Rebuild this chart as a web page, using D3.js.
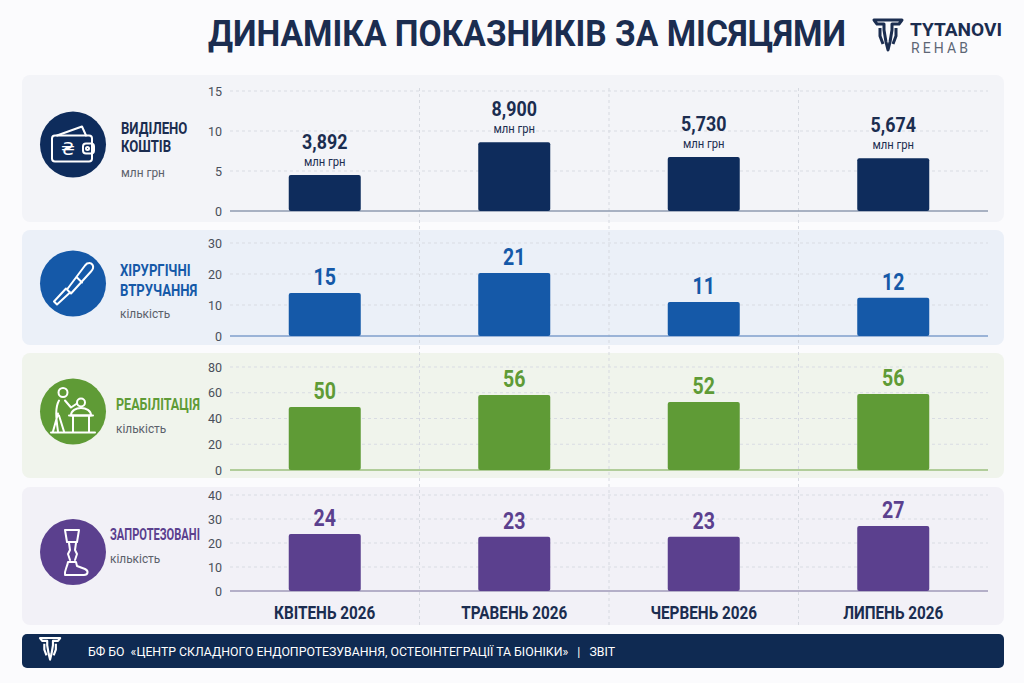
<!DOCTYPE html>
<html>
<head>
<meta charset="utf-8">
<script src="https://cdn.jsdelivr.net/npm/d3@7"></script>
<style>
  html, body { margin: 0; padding: 0; background: #fbfbfd; }
  svg { display: block; }
  .cond { font-family: "Roboto", "Noto Sans", sans-serif; }
</style>
</head>
<body>
<svg id="chart" width="1024" height="683"></svg>
<script>
// months on the x axis
const months = ['КВІТЕНЬ 2026', 'ТРАВЕНЬ 2026', 'ЧЕРВЕНЬ 2026', 'ЛИПЕНЬ 2026'];

// bar heights as drawn in the picture
const fundsValues = [4.5, 8.6, 6.75, 6.6];
const surgeryValues = [13.9, 20.3, 11.0, 12.3];
const rehabValues = [48.9, 58.3, 52.8, 59.0];
const prostheticValues = [23.8, 22.6, 22.6, 27.1];

// labels printed above the bars
const fundsLabels = ['3,892', '8,900', '5,730', '5,674'];
const surgeryLabels = ['15', '21', '11', '12'];
const rehabLabels = ['50', '56', '52', '56'];
const prostheticLabels = ['24', '23', '23', '27'];

// y axis ticks
const fundsTicks = [0, 5, 10, 15];
const surgeryTicks = [0, 10, 20, 30];
const rehabTicks = [0, 20, 40, 60, 80];
const prostheticTicks = [0, 10, 20, 30, 40];

const panels = [
  { title: ['ВИДІЛЕНО', 'КОШТІВ'], unit: 'млн грн', values: fundsValues, labels: fundsLabels,
    ticks: fundsTicks, top: 75, h: 147, y0: 211, y1: 91, color: '#0e2c5c', bg: '#f3f4f8',
    base: '#8f9bb0', icon: 'wallet', tx: 121, ty: [134, 152], uy: 177, units: true },
  { title: ['ХІРУРГІЧНІ', 'ВТРУЧАННЯ'], unit: 'кількість', values: surgeryValues, labels: surgeryLabels,
    ticks: surgeryTicks, top: 230, h: 115, y0: 336, y1: 243, color: '#1559a8', bg: '#ebf0f8',
    base: '#7f9fcc', icon: 'scalpel', tx: 120, ty: [276, 296], uy: 318 },
  { title: ['РЕАБІЛІТАЦІЯ'], unit: 'кількість', values: rehabValues, labels: rehabLabels,
    ticks: rehabTicks, top: 353, h: 125, y0: 470, y1: 367, color: '#5f9b36', bg: '#f0f4ec',
    base: '#9cc07f', icon: 'rehab', tx: 116, ty: [410], uy: 433 },
  { title: ['ЗАПРОТЕЗОВАНІ'], unit: 'кількість', values: prostheticValues, labels: prostheticLabels,
    ticks: prostheticTicks, top: 487, h: 138, y0: 591, y1: 495, color: '#5b408e', bg: '#f2f1f7',
    base: '#9f98b8', icon: 'leg', tx: 110, ty: [540], uy: 563 }
];

const svg = d3.select('#chart');
const navy = '#1b2d50';

const x = d3.scaleBand().domain(months).range([230, 988]).paddingInner(0.62).paddingOuter(0.31);

// squeeze text horizontally to mimic a condensed face
function squeeze(sel, k, maxW) {
  sel.each(function () {
    let w = this.getComputedTextLength() * k;
    if (maxW && w > maxW) w = maxW;
    d3.select(this).attr('textLength', w).attr('lengthAdjust', 'spacingAndGlyphs');
  });
}

// title
svg.append('text')
  .attr('class', 'cond')
  .attr('x', 527).attr('y', 46)
  .attr('text-anchor', 'middle')
  .attr('textLength', 638).attr('lengthAdjust', 'spacingAndGlyphs')
  .style('font-size', '37px').style('font-weight', 'bold')
  .style('fill', navy)
  .text('ДИНАМІКА ПОКАЗНИКІВ ЗА МІСЯЦЯМИ');

// logo
function tLogo(g, color, sw) {
  g.append('path')
    .attr('d', 'M0,0 H28 L25,4 H18 V10 L16,22 L14,30 L12,22 L10,10 V4 H3 Z')
    .attr('fill', 'none').attr('stroke', color).attr('stroke-width', sw).attr('stroke-linejoin', 'round');
  g.append('path')
    .attr('d', 'M6,8 V16 L9,24 M22,8 V16 L19,24')
    .attr('fill', 'none').attr('stroke', color).attr('stroke-width', sw);
}
tLogo(svg.append('g').attr('transform', 'translate(874,20)'), navy, 3);
svg.append('text').attr('x', 910).attr('y', 36)
  .attr('textLength', 92).attr('lengthAdjust', 'spacingAndGlyphs')
  .style('font-family', 'Roboto, sans-serif').style('font-weight', 'bold').style('font-size', '18px')
  .style('fill', navy).text('TYTANOVI');
svg.append('text').attr('x', 911).attr('y', 53)
  .attr('textLength', 57).attr('lengthAdjust', 'spacing')
  .style('font-family', 'Roboto, sans-serif').style('font-size', '14px')
  .style('fill', '#5d6675').text('REHAB');

// panels backgrounds
panels.forEach((p) => {
  svg.append('rect')
    .attr('x', 22).attr('y', p.top).attr('width', 982).attr('height', p.h)
    .attr('rx', 8).attr('fill', p.bg);
});

// vertical dashed separators between months
svg.append('g').selectAll('line')
  .data(months.slice(1))
  .join('line')
  .attr('x1', (d) => x(d) - x.step() * x.paddingInner() / 2)
  .attr('x2', (d) => x(d) - x.step() * x.paddingInner() / 2)
  .attr('y1', 88).attr('y2', 625)
  .attr('stroke', '#d6d9e0').attr('stroke-dasharray', '3,3');

const icons = {
  wallet(g) {
    g.append('path').attr('d', 'M-16,-9 L9,-18 L13,-9').attr('fill', 'none');
    g.append('rect').attr('x', -21).attr('y', -9).attr('width', 40).attr('height', 26).attr('rx', 3);
    g.append('rect').attr('x', 10).attr('y', -1).attr('width', 11).attr('height', 10).attr('rx', 3);
    g.append('circle').attr('cx', 14.5).attr('cy', 4).attr('r', 1.5);
    g.append('text').attr('x', -5).attr('y', 10).attr('text-anchor', 'middle')
      .style('font-family', 'DejaVu Sans, sans-serif').style('font-size', '18px')
      .attr('fill', '#fff').attr('stroke', 'none').text('₴');
  },
  scalpel(g) {
    g.append('path').attr('d', 'M14,-20 C20,-22 22,-16 18,-12 L-2,10 L-6,6 L12,-18 Z');
    g.append('path').attr('d', 'M-3,9 L-16,21 L-19,18 L-7,5');
    g.append('line').attr('x1', 4).attr('y1', -6).attr('x2', 9).attr('y2', -1);
  },
  rehab(g) {
    g.append('circle').attr('cx', -10).attr('cy', -19).attr('r', 4.5);
    g.append('path').attr('d', 'M-14,-11 C-18,-4 -17,6 -15,20 M-8,-11 L-2,-4 L4,-8 M-14,4 L-9,20 M-15,2 L-20,20');
    g.append('circle').attr('cx', 8).attr('cy', -9).attr('r', 4);
    g.append('path').attr('d', 'M-2,4 C-2,-6 18,-6 18,4 Z');
    g.append('path').attr('d', 'M-4,4 H20 M0,4 V20 M16,4 V20 M-22,21 H22');
  },
  leg(g) {
    g.append('path').attr('d', 'M-8,-22 H6 L4,-10 H-6 Z');
    g.append('path').attr('d', 'M-4,-9 L-3,-2 L-5,2 L-3,8 M3,-9 L2,-2 L4,2 L2,8');
    g.append('path').attr('d', 'M-5,10 H3 L4,14 L12,17 C16,19 15,23 11,23 H-8 C-9,19 -6,16 -5,10 Z');
  }
};

panels.forEach((p) => {
  const y = d3.scaleLinear().domain([0, d3.max(p.ticks)]).range([p.y0, p.y1]);
  const g = svg.append('g');

  // horizontal grid
  g.append('g').selectAll('line')
    .data(p.ticks.slice(1))
    .join('line')
    .attr('x1', 230).attr('x2', 988)
    .attr('y1', (d) => y(d)).attr('y2', (d) => y(d))
    .attr('stroke', '#d9dce3').attr('stroke-dasharray', '3,3');

  // y axis
  const axis = g.append('g')
    .attr('transform', 'translate(230,0)')
    .call(d3.axisLeft(y).tickValues(p.ticks).tickSize(0).tickPadding(8));
  axis.select('.domain').remove();
  axis.selectAll('text')
    .attr('class', 'cond')
    .style('font-size', '12.5px').style('fill', '#4a4f5a');

  // baseline
  g.append('line')
    .attr('x1', 230).attr('x2', 988).attr('y1', p.y0).attr('y2', p.y0)
    .attr('stroke', p.base).attr('stroke-width', 1.5);

  // bars
  g.append('g').selectAll('rect')
    .data(p.values)
    .join('rect')
    .attr('x', (d, i) => x(months[i]))
    .attr('width', x.bandwidth())
    .attr('y', (d) => y(d))
    .attr('height', (d) => p.y0 - y(d))
    .attr('rx', 2)
    .attr('fill', p.color);

  // value labels
  g.append('g').selectAll('text')
    .data(p.values)
    .join('text')
    .attr('class', 'cond')
    .attr('x', (d, i) => x(months[i]) + x.bandwidth() / 2)
    .attr('y', (d) => y(d) - (p.units ? 26 : 8))
    .attr('text-anchor', 'middle')
    .style('font-size', p.units ? '21px' : '23px').style('font-weight', 'bold')
    .style('fill', p.units ? navy : p.color)
    .text((d, i) => p.labels[i])
    .call(squeeze, 0.85);

  if (p.units) {
    g.append('g').selectAll('text')
      .data(p.values)
      .join('text')
      .attr('class', 'cond')
      .attr('x', (d, i) => x(months[i]) + x.bandwidth() / 2)
      .attr('y', (d) => y(d) - 9)
      .attr('text-anchor', 'middle')
      .style('font-size', '12.5px')
      .style('fill', navy)
      .text(p.unit)
      .call(squeeze, 0.9);
  }

  // icon circle
  const cy = p.top + p.h / 2 - 4;
  svg.append('circle').attr('cx', 73).attr('cy', cy).attr('r', 33).attr('fill', p.color);
  const ig = svg.append('g').attr('transform', `translate(73,${cy})`)
    .attr('fill', 'none').attr('stroke', '#fff').attr('stroke-width', 2)
    .attr('stroke-linecap', 'round').attr('stroke-linejoin', 'round');
  icons[p.icon](ig);

  // category title + unit (scaled horizontally for a condensed look)
  p.title.forEach((t, i) => {
    const txt = svg.append('text').attr('class', 'cond')
      .style('font-size', '16px').style('font-weight', 'bold')
      .style('fill', p.color === '#0e2c5c' ? navy : p.color)
      .text(t);
    const w = txt.node().getComputedTextLength();
    const k = Math.min(0.82, (200 - p.tx) / w);
    txt.attr('transform', `translate(${p.tx},${p.ty[i]}) scale(${k},1)`);
  });
  svg.append('text').attr('class', 'cond')
    .attr('transform', `translate(${p.tx},${p.uy}) scale(0.88,1)`)
    .style('font-size', '13.5px')
    .style('fill', '#5b606a')
    .text(p.unit);
});

// month labels
svg.append('g').selectAll('text')
  .data(months)
  .join('text')
  .attr('class', 'cond')
  .attr('x', (d) => x(d) + x.bandwidth() / 2)
  .attr('y', 619)
  .attr('text-anchor', 'middle')
  .style('font-size', '18px').style('font-weight', 'bold')
  .style('fill', navy)
  .text((d) => d)
  .call(squeeze, 0.85);

// footer
svg.append('rect').attr('x', 22).attr('y', 634).attr('width', 982).attr('height', 34)
  .attr('rx', 5).attr('fill', '#0f2a52');
tLogo(svg.append('g').attr('transform', 'translate(40,638) scale(0.72)'), '#fff', 3);
svg.append('text').attr('class', 'cond')
  .attr('x', 88).attr('y', 656)
  .attr('textLength', 527).attr('lengthAdjust', 'spacingAndGlyphs')
  .style('font-size', '13px').style('fill', '#fff')
  .attr('xml:space', 'preserve')
  .text('БФ БО  «ЦЕНТР СКЛАДНОГО ЕНДОПРОТЕЗУВАННЯ, ОСТЕОІНТЕГРАЦІЇ ТА БІОНІКИ»   |   ЗВІТ');
</script>
</body>
</html>
